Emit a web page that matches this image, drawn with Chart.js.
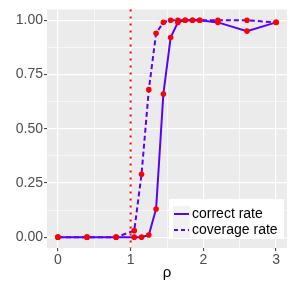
<!DOCTYPE html>
<html>
<head>
<meta charset="utf-8">
<script src="https://cdn.jsdelivr.net/npm/chart.js@4"></script>
<style>
  html, body { margin: 0; padding: 0; background: #fff; }
</style>
</head>
<body>
<canvas id="c" width="291" height="291"></canvas>
<script>
const rho = [0, 0.4, 0.8, 1.05, 1.15, 1.25, 1.35, 1.45, 1.55, 1.65, 1.75, 1.85, 1.95, 2.2, 2.6, 3.0];
const correctRate = [0, 0, 0, 0, 0, 0.01, 0.13, 0.66, 0.92, 0.99, 1, 1, 1, 0.99, 0.95, 0.99];
const coverageRate = [0, 0, 0, 0.03, 0.29, 0.68, 0.94, 0.99, 1, 1, 1, 1, 1, 1, 1, 0.99];
const xTicks = [0, 0.5, 1, 1.5, 2, 2.5, 3];
const yTicks = [0, 0.125, 0.25, 0.375, 0.5, 0.625, 0.75, 0.875, 1];
const seriesNames = ["correct rate", "coverage rate"];
const threshold = 1;

const lineColor = "#5a00ff";
const pointColor = "#ff0000";

function pairs(ys) {
  return rho.map((x, i) => ({ x: x, y: ys[i] }));
}

const isMajorX = (v) => Number.isInteger(v);
const isMajorY = (v) => Number.isInteger(Math.round(v * 1000) / 250);

// ggplot-ish background, threshold line and legend
const decorations = {
  id: "decorations",
  beforeDraw(chart) {
    const { ctx, chartArea: a } = chart;
    ctx.save();
    ctx.fillStyle = "#ebebeb";
    ctx.fillRect(a.left, a.top, a.right - a.left, a.bottom - a.top);
    ctx.restore();
  },
  afterDatasetsDraw(chart) {
    const { ctx, chartArea: a, scales } = chart;
    const x = scales.x.getPixelForValue(threshold);
    ctx.save();
    ctx.strokeStyle = pointColor;
    ctx.lineWidth = 2;
    ctx.setLineDash([2, 5]);
    ctx.beginPath();
    ctx.moveTo(x, a.top);
    ctx.lineTo(x, a.bottom);
    ctx.stroke();
    ctx.restore();
  },
  afterDraw(chart) {
    const { ctx } = chart;
    ctx.save();
    ctx.fillStyle = "#ffffff";
    ctx.fillRect(169, 199, 115, 40);
    const dashes = [[], [4, 3]];
    seriesNames.forEach((name, i) => {
      const top = 206 + i * 16;
      ctx.fillStyle = "#f2f2f2";
      ctx.fillRect(173, top, 17, 16);
      ctx.strokeStyle = lineColor;
      ctx.lineWidth = 2;
      ctx.setLineDash(dashes[i]);
      ctx.beginPath();
      ctx.moveTo(174, top + 8);
      ctx.lineTo(189, top + 8);
      ctx.stroke();
      ctx.setLineDash([]);
      ctx.fillStyle = "#000000";
      ctx.font = "14px 'Liberation Sans', Arial, sans-serif";
      ctx.textBaseline = "middle";
      ctx.fillText(name, 192, top + 8.5);
    });
    ctx.restore();
  },
};

const ctx = document.getElementById("c").getContext("2d");
new Chart(ctx, {
  type: "line",
  data: {
    datasets: [
      {
        label: "correct rate points",
        data: pairs(correctRate),
        showLine: false,
        pointRadius: 2.8,
        pointBackgroundColor: pointColor,
        pointBorderWidth: 0,
        order: 0,
      },
      {
        label: "coverage rate points",
        data: pairs(coverageRate),
        showLine: false,
        pointRadius: 2.8,
        pointBackgroundColor: pointColor,
        pointBorderWidth: 0,
        order: 1,
      },
      {
        label: seriesNames[0],
        data: pairs(correctRate),
        borderColor: lineColor,
        borderWidth: 2,
        pointRadius: 0,
        tension: 0,
        order: 2,
      },
      {
        label: seriesNames[1],
        data: pairs(coverageRate),
        borderColor: lineColor,
        borderWidth: 2,
        borderDash: [5, 3],
        pointRadius: 0,
        tension: 0,
        order: 3,
      },
    ],
  },
  options: {
    responsive: false,
    animation: false,
    devicePixelRatio: 1,
    layout: { padding: { top: 9, right: 4, left: 0, bottom: 0 } },
    plugins: {
      legend: { display: false },
      tooltip: { enabled: false },
    },
    scales: {
      x: {
        type: "linear",
        min: -0.15,
        max: 3.15,
        afterBuildTicks: (s) => { s.ticks = xTicks.map((v) => ({ value: v })); },
        afterFit: (s) => { s.height = 43; },
        border: { display: false },
        grid: {
          color: "#ffffff",
          lineWidth: (c) => (isMajorX(c.tick.value) ? 1.2 : 0.6),
          tickColor: (c) => (isMajorX(c.tick.value) ? "#333333" : "rgba(0,0,0,0)"),
          tickLength: 3,
          tickWidth: 1,
        },
        ticks: {
          color: "#4d4d4d",
          font: { family: "'Liberation Sans', Arial, sans-serif", size: 14 },
          padding: 1,
          maxRotation: 0,
          autoSkip: false,
          callback: (v) => (isMajorX(v) ? String(v) : ""),
        },
        title: {
          display: true,
          text: "ρ",
          color: "#000000",
          font: { family: "'Liberation Sans', Arial, sans-serif", size: 15 },
          padding: { top: 0, bottom: 9 },
        },
      },
      y: {
        type: "linear",
        min: -0.05,
        max: 1.05,
        afterBuildTicks: (s) => { s.ticks = yTicks.map((v) => ({ value: v })); },
        afterFit: (s) => { s.width = 47; },
        border: { display: false },
        grid: {
          color: "#ffffff",
          lineWidth: (c) => (isMajorY(c.tick.value) ? 1.2 : 0.6),
          tickColor: (c) => (isMajorY(c.tick.value) ? "#333333" : "rgba(0,0,0,0)"),
          tickLength: 3,
          tickWidth: 1,
        },
        ticks: {
          color: "#4d4d4d",
          font: { family: "'Liberation Sans', Arial, sans-serif", size: 14 },
          padding: 1,
          autoSkip: false,
          callback: (v) => (isMajorY(v) ? v.toFixed(2) : ""),
        },
      },
    },
  },
  plugins: [decorations],
});
</script>
</body>
</html>
